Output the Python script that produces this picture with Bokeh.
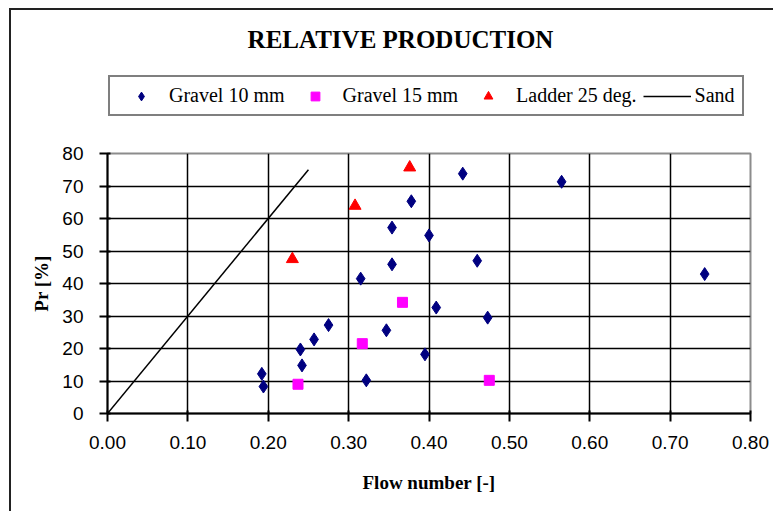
from bokeh.plotting import figure
from bokeh.layouts import column
from bokeh.models import (Range1d, FixedTicker, NumeralTickFormatter, Legend, LegendItem, Label)
from bokeh.embed import file_html
from bokeh.resources import INLINE

# ---- data ----
g10_x = [0.192, 0.194, 0.240, 0.242, 0.257, 0.275, 0.315, 0.322, 0.347, 0.354,
         0.354, 0.378, 0.395, 0.400, 0.409, 0.442, 0.460, 0.473, 0.565, 0.743]
g10_y = [12.2, 8.3, 19.7, 14.8, 22.8, 27.2, 41.5, 10.2, 25.6, 45.9,
         57.2, 65.3, 18.2, 54.8, 32.6, 73.8, 47.0, 29.5, 71.3, 42.9]
g15_x = [0.237, 0.317, 0.367, 0.475]
g15_y = [9.0, 21.5, 34.2, 10.2]
lad_x = [0.230, 0.308, 0.376]
lad_y = [47.5, 63.9, 75.7]
sand_x = [0.0, 0.25]
sand_y = [0.0, 75.0]
x_ticks = [0.0, 0.1, 0.2, 0.3, 0.4, 0.5, 0.6, 0.7, 0.8]
y_ticks = [0, 10, 20, 30, 40, 50, 60, 70, 80]
series_names = ["Gravel 10 mm", "Gravel 15 mm", "Ladder 25 deg.", "Sand"]

SERIF = "Liberation Serif"
SANS = "Liberation Sans"
C_G10, C_G15, C_LAD = "#000080", "#ff00ff", "#ff0000"

# ---------------- main chart ----------------
p = figure(frame_width=643, frame_height=260, min_border_left=96, min_border_right=25,
           min_border_top=10, min_border_bottom=100,
           x_range=Range1d(0, 0.8), y_range=Range1d(0, 80),
           output_backend="svg", toolbar_location=None, title=None)
p.background_fill_color = "white"
p.border_fill_color = "white"
p.outline_line_color = "#8c8c8c"
p.outline_line_width = 2

for ax in (p.xaxis[0], p.yaxis[0]):
    ax.axis_line_color = "black"
    ax.axis_line_width = 2
    ax.major_tick_line_color = "black"
    ax.major_tick_line_width = 2
    ax.major_tick_out = 8
    ax.major_tick_in = 3
    ax.minor_tick_line_color = None
    ax.major_label_text_font = SANS
    ax.major_label_text_font_size = "19px"
    ax.major_label_text_color = "black"
    ax.axis_label_text_font = SERIF
    ax.axis_label_text_font_style = "bold"
    ax.axis_label_text_font_size = "19px"
    ax.axis_label_text_color = "black"

p.xaxis.ticker = FixedTicker(ticks=x_ticks)
p.yaxis.ticker = FixedTicker(ticks=y_ticks)
p.xaxis.formatter = NumeralTickFormatter(format="0.00")
p.xaxis.major_label_standoff = 14
p.yaxis.major_label_standoff = 16
p.xaxis.axis_label = "Flow number [-]"
p.yaxis.axis_label = "Pr [%]"
p.xaxis.axis_label_standoff = 20
p.yaxis.axis_label_standoff = 7

for g in (p.xgrid[0], p.ygrid[0]):
    g.grid_line_color = "black"
    g.grid_line_width = 1.5

p.line(sand_x, sand_y, line_color="black", line_width=1.5)
p.scatter(g10_x, g10_y, marker="diamond", size=13, fill_color=C_G10, line_color=C_G10)
p.scatter(g15_x, g15_y, marker="square", size=10, fill_color=C_G15, line_color=C_G15)
p.scatter(lad_x, lad_y, marker="triangle", size=12, fill_color=C_LAD, line_color=C_LAD)

# ---------------- header: title + legend ----------------
# The column aligns this header's frame with the chart frame (643 px wide).
HX0, HW, HH = 10, 643, 133
h = figure(width=764, height=HH, min_border=0, min_border_left=0, min_border_right=0,
           min_border_top=0, min_border_bottom=0,
           x_range=Range1d(HX0, HX0 + HW), y_range=Range1d(0, HH),
           x_axis_type=None, y_axis_type=None,
           output_backend="svg", toolbar_location=None, title=None)
h.outline_line_color = None
h.background_fill_color = "white"
h.border_fill_color = "white"

# legend proxies (same series; they fall outside this header's range, so only the legend shows them)
l_g10 = h.scatter(g10_x, g10_y, marker="diamond", size=13, fill_color=C_G10, line_color=C_G10)
l_g15 = h.scatter(g15_x, g15_y, marker="square", size=10, fill_color=C_G15, line_color=C_G15)
l_lad = h.scatter(lad_x, lad_y, marker="triangle", size=12, fill_color=C_LAD, line_color=C_LAD)
l_sand = h.line(sand_x, sand_y, line_color="black", line_width=1.5)

legend = Legend(items=[
    LegendItem(label=series_names[0], renderers=[l_g10]),
    LegendItem(label=series_names[1], renderers=[l_g15]),
    LegendItem(label=series_names[2], renderers=[l_lad]),
    LegendItem(label=series_names[3], renderers=[l_sand]),
], orientation="horizontal", location=(1, 27))
legend.glyph_width = 48
legend.glyph_height = 22
legend.label_standoff = 4
legend.spacing = 6
legend.padding = 7
legend.margin = 0
legend.label_text_font = SERIF
legend.label_text_font_size = "20px"
legend.label_text_color = "black"
legend.border_line_color = "black"
legend.border_line_width = 2
legend.background_fill_color = "white"
legend.background_fill_alpha = 1
h.add_layout(legend, "center")

title = Label(x=HX0 + 293, y=104, text="RELATIVE PRODUCTION", text_font=SERIF,
              text_font_style="bold", text_font_size="25px", text_color="black",
              text_align="center", text_baseline="middle")
h.add_layout(title)

layout = column(h, p, spacing=0)
layout.styles = {"position": "relative", "left": "11px", "top": "10px",
                 "box-shadow": "-2px -2px 0px 0px #222222"}

open("out.html", "w").write(file_html(layout, INLINE))
